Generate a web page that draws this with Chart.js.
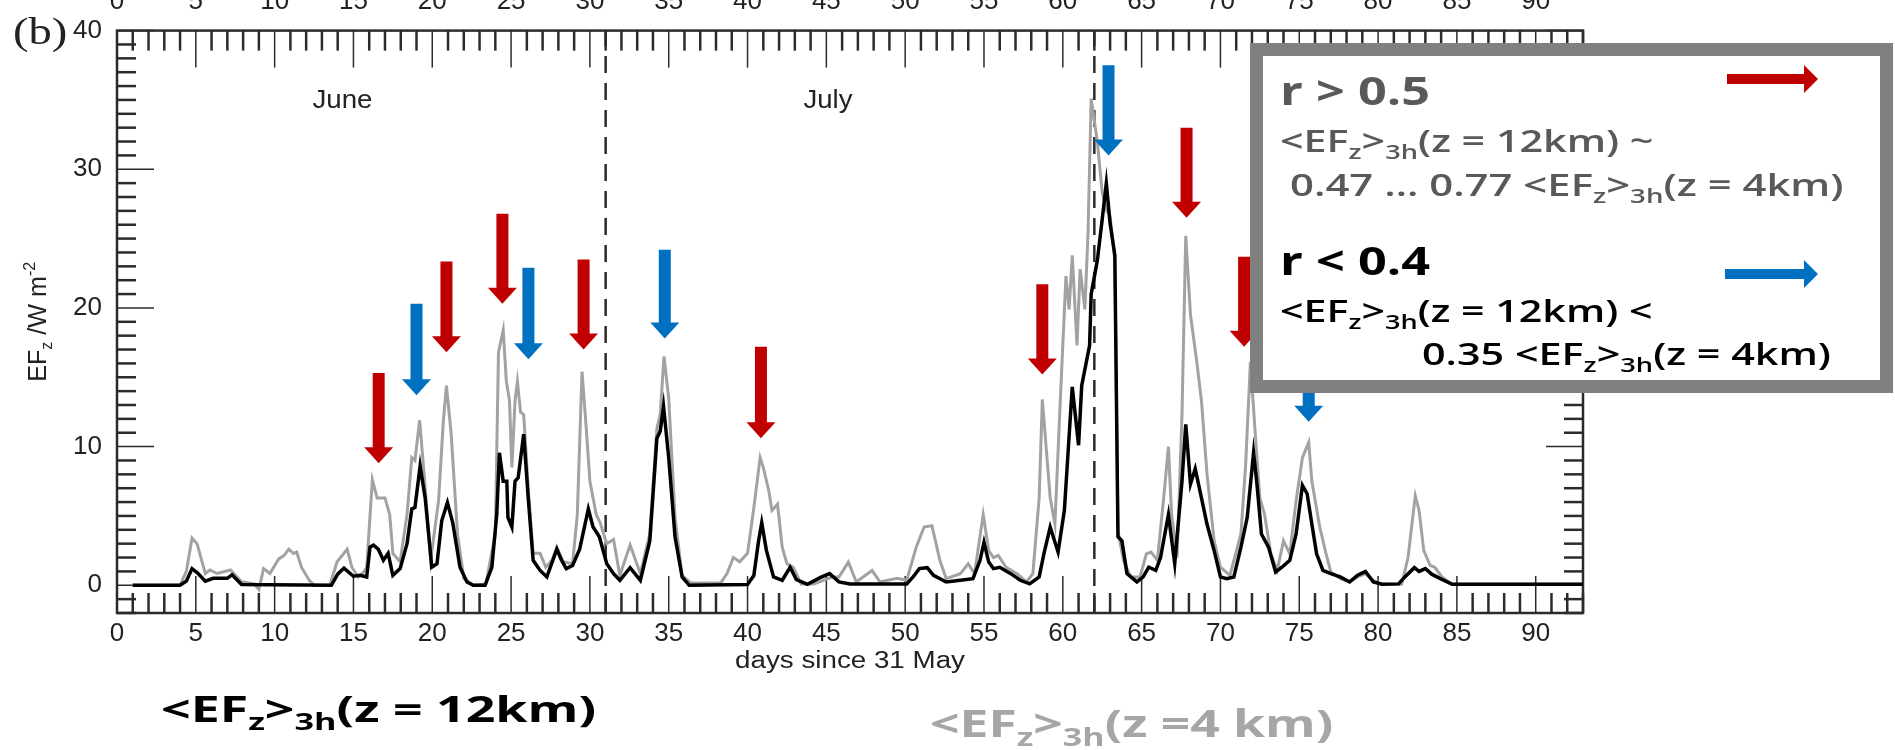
<!DOCTYPE html>
<html>
<head>
<meta charset="utf-8">
<title>EFz 12 km vs 4 km</title>
<script src="https://cdn.jsdelivr.net/npm/chart.js@4.4.1/dist/chart.umd.min.js"></script>
<style>
    html, body { margin: 0; padding: 0; background: #fff; }
    #wrap { position: relative; width: 1895px; height: 750px; overflow: hidden; }
    #chart { position: absolute; left: 0; top: 0; }
    .txt { position: absolute; left: 0; top: 0; white-space: nowrap; transform-origin: 0 0;
           font-family: 'Open Sans', 'Noto Sans', sans-serif; line-height: 1; }
    .txt sub { font-size: 0.66em; vertical-align: -0.35em; line-height: 0; }
    .bl { display: inline-block; width: 0; height: 0; vertical-align: baseline; }
    #legendBox { position: absolute; left: 1250px; top: 43px; width: 643px; height: 350px;
                 box-sizing: border-box; border: 13px solid #808080; background: #fff; }
    .grey { color: #595959; }
    .semi { font-weight: 600; }
    .bold { font-weight: 700; }
    #panel { font-family: 'Liberation Serif', serif; color: #222; }
</style>
</head>
<body>
<div id="wrap">
    <canvas id="chart" width="1895" height="750"></canvas>

    <div id="legendBox"></div>
    <svg width="1895" height="750" style="position:absolute;left:0;top:0">
        <polygon fill="#C00000" points="1727,74 1804,74 1804,65 1818,79 1804,93 1804,84 1727,84"/>
        <polygon fill="#0070C0" points="1725,269 1804,269 1804,260 1818,274 1804,288 1804,279 1725,279"/>
    </svg>

    <div class="txt" id="panel" data-x="13" data-base="44" data-w="54" style="font-size:38px">(b)</div>

    <div class="txt grey bold" data-x="1280" data-base="105" data-w="150" style="font-size:40px">r &gt; 0.5</div>
    <div class="txt grey semi" data-x="1280" data-base="152" data-w="374" style="font-size:30px">&lt;EF<sub>z</sub>&gt;<sub>3h</sub>(z = 12km) ~</div>
    <div class="txt grey semi" data-x="1290" data-base="196" data-w="554" style="font-size:30px">0.47 &hellip; 0.77 &lt;EF<sub>z</sub>&gt;<sub>3h</sub>(z = 4km)</div>
    <div class="txt bold" data-x="1280" data-base="275" data-w="150" style="font-size:40px">r &lt; 0.4</div>
    <div class="txt semi" data-x="1280" data-base="322" data-w="373" style="font-size:30px">&lt;EF<sub>z</sub>&gt;<sub>3h</sub>(z = 12km) &lt;</div>
    <div class="txt semi" data-x="1422" data-base="365" data-w="409" style="font-size:30px">0.35 &lt;EF<sub>z</sub>&gt;<sub>3h</sub>(z = 4km)</div>

    <div class="txt bold" data-x="161" data-base="722" data-w="435" style="font-size:36px">&lt;EF<sub>z</sub>&gt;<sub>3h</sub>(z = 12km)</div>
    <div class="txt bold" data-x="930" data-base="737" data-w="403" style="font-size:37px;color:#A6A6A6">&lt;EF<sub>z</sub>&gt;<sub>3h</sub>(z =4 km)</div>
</div>

<script>
// days since 31 May and 3h-mean EFz (W m-2) at z = 12 km (black)
var days12 = [1.0, 4.0, 4.4, 4.76, 5.1, 5.6, 6.1, 7.0, 7.3, 7.9,
    13.6, 14.0, 14.4, 15.0, 15.42, 15.84, 16.05, 16.27, 16.58, 16.9,
    17.2, 17.5, 17.96, 18.4, 18.7, 18.9, 19.23, 19.55, 19.97, 20.3,
    20.6, 20.96, 21.3, 21.76, 22.2, 22.6, 23.35, 23.78, 24.09, 24.26,
    24.5, 24.73, 24.8, 25.05, 25.25, 25.45, 25.8, 26.1, 26.4, 26.84,
    27.27, 27.9, 28.2, 28.5, 28.9, 29.35, 29.9, 30.2, 30.6, 31.07,
    31.5, 31.9, 32.55, 33.2, 33.8, 34.25, 34.46, 34.67, 35.0, 35.4,
    35.85, 36.3, 40.0, 40.4, 40.7, 40.9, 41.2, 41.65, 42.2, 42.7,
    43.1, 43.8, 44.6, 45.2, 45.8, 46.5, 50.1, 50.5, 50.9, 51.4,
    51.8, 52.6, 53.5, 54.3, 54.75, 55.0, 55.3, 55.6, 56.0, 56.7,
    57.3, 57.9, 58.5, 58.8, 59.2, 59.7, 60.1, 60.6, 61.0, 61.2,
    61.7, 61.8, 62.2, 62.5, 62.76, 63.0, 63.3, 63.5, 63.75, 64.07,
    64.7, 65.1, 65.45, 65.9, 66.2, 66.7, 67.1, 67.56, 67.8, 68.1,
    68.4, 68.7, 69.15, 69.6, 70.0, 70.4, 70.85, 71.3, 71.7, 72.1,
    72.3, 72.6, 73.05, 73.5, 73.9, 74.4, 74.8, 75.2, 75.5, 75.8,
    76.1, 76.5, 77.0, 77.6, 78.2, 78.7, 79.2, 79.7, 80.25, 81.3,
    81.7, 82.3, 82.6, 83.0, 83.4, 83.95, 84.7, 93.0];
var ef12 = [0, 0, 0.3, 1.2, 0.9, 0.3, 0.5, 0.5, 0.76, 0.05,
    0, 0.8, 1.24, 0.65, 0.72, 0.6, 2.75, 2.9, 2.6, 1.8,
    2.3, 0.72, 1.2, 3.0, 5.5, 5.6, 8.6, 6.3, 1.3, 1.55,
    4.65, 5.97, 4.5, 1.3, 0.24, 0, 0, 1.3, 5.1, 9.55,
    7.5, 7.5, 4.9, 4.2, 7.5, 7.75, 10.9, 6.1, 1.8, 1.07,
    0.6, 2.6, 1.8, 1.2, 1.43, 2.6, 5.5, 4.2, 3.5, 1.55,
    0.84, 0.36, 1.27, 0.36, 3.2, 10.6, 11.1, 12.9, 9.2, 3.5,
    0.6, 0, 0.05, 0.7, 3.2, 4.5, 2.5, 0.6, 0.36, 1.3,
    0.4, 0.07, 0.55, 0.84, 0.24, 0.1, 0.1, 0.6, 1.2, 1.27,
    0.72, 0.24, 0.36, 0.48, 1.8, 3.1, 1.67, 1.2, 1.3, 0.84,
    0.36, 0.1, 0.6, 2.27, 4.2, 2.4, 5.4, 14.3, 10.1, 14.4,
    17.3, 21.0, 23.5, 26.4, 29.0, 26.1, 23.8, 3.5, 3.2, 0.84,
    0.24, 0.6, 1.3, 1.07, 2.0, 5.1, 1.55, 7.5, 11.6, 7.3,
    8.4, 6.8, 4.4, 2.5, 0.6, 0.48, 0.6, 2.75, 4.9, 9.55,
    7.5, 3.7, 2.75, 0.96, 1.3, 1.8, 3.7, 7.2, 6.6, 4.4,
    2.27, 1.07, 0.84, 0.6, 0.24, 0.72, 1.0, 0.24, 0.07, 0.1,
    0.6, 1.27, 1.0, 1.2, 0.8, 0.48, 0.07, 0.07];

// same at z = 4 km (grey)
var days4 = [1.0, 4.0, 4.4, 4.76, 5.08, 5.6, 5.9, 6.35, 7.2, 7.9,
    8.7, 9.0, 9.3, 9.7, 10.26, 10.6, 10.9, 11.2, 11.4, 11.7,
    12.2, 12.5, 13.5, 13.96, 14.6, 14.9, 15.3, 15.65, 15.84, 16.2,
    16.5, 17.0, 17.3, 17.5, 17.96, 18.4, 18.7, 18.9, 19.2, 19.5,
    19.9, 20.4, 20.7, 20.9, 21.2, 21.6, 22.0, 22.6, 23.4, 24.0,
    24.2, 24.5, 24.7, 24.9, 25.05, 25.25, 25.4, 25.6, 25.8, 26.1,
    26.4, 26.84, 27.2, 27.6, 27.9, 28.3, 28.9, 29.2, 29.5, 29.77,
    30.0, 30.4, 30.65, 31.07, 31.5, 31.9, 32.55, 33.2, 33.8, 34.25,
    34.46, 34.7, 35.0, 35.4, 35.85, 36.4, 38.3, 38.7, 39.1, 39.5,
    40.0, 40.4, 40.8, 41.0, 41.35, 41.55, 41.9, 42.2, 42.5, 42.9,
    43.4, 44.2, 45.4, 45.8, 46.4, 46.9, 47.9, 48.4, 49.5, 50.1,
    50.7, 51.2, 51.7, 52.2, 52.6, 53.5, 54.0, 54.4, 54.95, 55.3,
    55.6, 55.9, 56.4, 57.1, 57.7, 58.1, 58.5, 58.7, 59.2, 59.5,
    59.8, 60.2, 60.4, 60.6, 60.9, 61.1, 61.4, 61.6, 61.8, 62.0,
    62.2, 62.5, 62.76, 63.0, 63.3, 63.5, 63.85, 64.3, 64.9, 65.3,
    65.6, 66.0, 66.4, 66.7, 66.9, 67.25, 67.56, 67.8, 68.1, 68.5,
    68.8, 69.15, 69.6, 70.0, 70.6, 71.3, 71.6, 71.9, 72.2, 72.5,
    72.8, 73.2, 73.6, 74.0, 74.4, 74.8, 75.2, 75.6, 75.8, 76.3,
    76.7, 77.0, 77.6, 78.2, 78.7, 79.2, 79.7, 80.25, 81.5, 81.9,
    82.36, 82.6, 82.9, 83.3, 83.6, 84.05, 84.7, 93.0];
var ef4 = [0, 0, 1.0, 3.4, 3.0, 0.85, 1.1, 0.85, 1.1, 0.25,
    0.1, -0.3, 1.2, 0.85, 1.9, 2.15, 2.6, 2.3, 2.4, 1.3,
    0.35, 0, 0, 1.7, 2.6, 1.3, 0.6, 0.95, 1.3, 7.6,
    6.3, 6.3, 5.1, 2.3, 1.7, 5.1, 9.2, 9.0, 11.9, 7.76,
    1.8, 6.1, 11.8, 14.4, 10.9, 3.7, 0.5, 0, 0.1, 3.7,
    16.8, 18.4, 14.7, 13.3, 8.5, 13.3, 14.7, 12.5, 12.3, 6.8,
    2.3, 2.3, 1.3, 1.8, 2.75, 1.7, 1.55, 5.1, 15.4, 11.3,
    7.5, 5.1, 4.5, 3.0, 3.3, 0.7, 2.9, 0.84, 3.7, 11.3,
    12.3, 16.5, 13.5, 4.9, 0.7, 0.17, 0.17, 0.84, 2.0, 1.7,
    2.3, 5.6, 9.2, 8.5, 6.8, 5.4, 5.85, 2.75, 1.55, 1.3,
    0.1, 0.1, 0.6, 0.6, 1.67, 0.24, 1.07, 0.24, 0.5, 0.36,
    2.75, 4.2, 4.3, 1.8, 0.48, 0.84, 1.55, 0.84, 5.1, 2.5,
    2.0, 2.15, 1.3, 0.84, 0.24, 0.84, 6.3, 13.4, 6.3, 4.4,
    12.3, 22.3, 19.9, 23.8, 17.3, 22.8, 19.9, 25.4, 35.1, 33.5,
    31.9, 28.3, 27.1, 26.6, 23.5, 3.9, 1.8, 0.6, 0.6, 2.27,
    2.4, 1.8, 6.3, 10.0, 5.1, 2.0, 12.3, 25.2, 19.5, 16.1,
    13.25, 8.0, 3.2, 1.3, 0.72, 3.7, 8.7, 16.1, 11.1, 6.3,
    5.1, 2.27, 1.07, 3.2, 2.27, 6.1, 9.2, 10.3, 7.5, 4.2,
    2.27, 0.96, 0.48, 0.24, 0.6, 0.84, 0.36, 0.07, 0.07, 2.0,
    6.45, 5.4, 2.5, 1.43, 1.3, 0.6, 0.07, 0.07];

// axes
var xTickValues = [0, 5, 10, 15, 20, 25, 30, 35, 40, 45, 50, 55, 60, 65, 70, 75, 80, 85, 90];
var yTickValues = [0, 10, 20, 30, 40];
var xTitle = 'days since 31 May';

// month labels and month boundaries
var monthNames = ['June', 'July'];
var monthDays = [14.3, 45.1];
var monthLabelLevel = 34.4;
var splitDays = [31, 62];

// event arrows: day, top of shaft, tip (in EFz units), correlation group
var arrowDays = [16.6, 19.0, 20.9, 24.45, 26.1, 29.6, 34.75, 40.85, 58.7, 62.9, 67.85, 71.5, 75.6];
var arrowTop  = [15.3, 20.3, 23.35, 26.8, 22.9, 23.5, 24.2, 17.2, 21.7, 37.5, 33.0, 23.7, 20.0];
var arrowTip  = [8.8, 13.7, 16.8, 20.3, 16.3, 17.0, 17.8, 10.6, 15.2, 31.0, 26.5, 17.2, 11.8];
var arrowGroup = ['high', 'low', 'high', 'high', 'low', 'high', 'low', 'high', 'high', 'low', 'high', 'high', 'low'];

var groupColor = { high: '#C00000', low: '#0070C0' };
var axisColor = '#2b2b2b';

function toPoints(xs, ys) {
    return xs.map(function (d, i) { return { x: d, y: ys[i] }; });
}

// draw a string stretched to a given width
function fitText(ctx, str, x, y, w, align) {
    var nat = ctx.measureText(str).width;
    ctx.save();
    ctx.translate(x, y);
    ctx.scale(w / nat, 1);
    ctx.textAlign = 'left';
    ctx.fillText(str, align === 'center' ? -nat / 2 : 0, 0);
    ctx.restore();
}

var decor = {
    id: 'decor',
    beforeDatasetsDraw: function (chart) {
        var ctx = chart.ctx, a = chart.chartArea, x = chart.scales.x, y = chart.scales.y;
        ctx.save();
        ctx.strokeStyle = axisColor;

        // month boundaries
        ctx.lineWidth = 2.5;
        ctx.setLineDash([17, 10]);
        splitDays.forEach(function (d) {
            var px = x.getPixelForValue(d);
            ctx.beginPath();
            ctx.moveTo(px, a.bottom);
            ctx.lineTo(px, a.top);
            ctx.stroke();
        });
        ctx.setLineDash([]);

        // inward tick marks on all four sides
        function seg(x1, y1, x2, y2) {
            ctx.beginPath(); ctx.moveTo(x1, y1); ctx.lineTo(x2, y2); ctx.stroke();
        }
        for (var d = Math.ceil(x.min); d <= x.max; d++) {
            var major = d % 5 === 0, len = major ? 37 : 20, px = x.getPixelForValue(d);
            ctx.lineWidth = major ? 1.5 : 2.5;
            seg(px, a.bottom, px, a.bottom - len);
            seg(px, a.top, px, a.top + len);
        }
        for (var v = Math.ceil(y.min); v <= y.max; v++) {
            var majorY = v % 10 === 0, lenY = majorY ? 37 : 19, py = y.getPixelForValue(v);
            ctx.lineWidth = majorY ? 1.5 : 2.5;
            seg(a.left, py, a.left + lenY, py);
            seg(a.right, py, a.right - lenY, py);
        }

        ctx.lineWidth = 2.5;
        ctx.strokeRect(a.left, a.top, a.right - a.left, a.bottom - a.top);
        ctx.restore();
    },
    afterDatasetsDraw: function (chart) {
        var ctx = chart.ctx, x = chart.scales.x, y = chart.scales.y;
        ctx.save();
        arrowDays.forEach(function (d, i) {
            var px = x.getPixelForValue(d);
            var top = y.getPixelForValue(arrowTop[i]);
            var tip = y.getPixelForValue(arrowTip[i]);
            var head = 16, sw = 6, hw = 14.5;
            ctx.fillStyle = groupColor[arrowGroup[i]];
            ctx.beginPath();
            ctx.moveTo(px - sw, top);
            ctx.lineTo(px + sw, top);
            ctx.lineTo(px + sw, tip - head);
            ctx.lineTo(px + hw, tip - head);
            ctx.lineTo(px, tip);
            ctx.lineTo(px - hw, tip - head);
            ctx.lineTo(px - sw, tip - head);
            ctx.closePath();
            ctx.fill();
        });
        ctx.restore();
    },
    afterDraw: function (chart) {
        var ctx = chart.ctx, a = chart.chartArea, x = chart.scales.x, y = chart.scales.y;
        ctx.save();
        ctx.fillStyle = '#222';
        ctx.textBaseline = 'alphabetic';

        // labels of the top axis (mostly cut off by the page edge)
        ctx.font = '26px "Liberation Sans", Arial, sans-serif';
        ctx.textAlign = 'center';
        xTickValues.forEach(function (v) {
            ctx.fillText(String(v), x.getPixelForValue(v), a.top - 22);
        });

        // month names
        ctx.font = '26px "Liberation Sans", Arial, sans-serif';
        monthNames.forEach(function (m, i) {
            fitText(ctx, m, x.getPixelForValue(monthDays[i]), y.getPixelForValue(monthLabelLevel), m === 'June' ? 60 : 49, 'center');
        });

        // x title
        ctx.font = '23px "Liberation Sans", Arial, sans-serif';
        fitText(ctx, xTitle, (a.left + a.right) / 2, a.bottom + 55, 230, 'center');

        // y title: EF_z /W m^-2, rotated
        var parts = [['EF', 0], ['z', 1], [' /W m', 0], ['-2', -1]];
        var fs = 25, small = 16;
        var total = 0;
        parts.forEach(function (p) {
            ctx.font = (p[1] ? small : fs) + 'px "Liberation Sans", Arial, sans-serif';
            total += ctx.measureText(p[0]).width;
        });
        var target = 120;
        ctx.translate(46, (a.top + a.bottom) / 2);
        ctx.rotate(-Math.PI / 2);
        ctx.scale(target / total, 1);
        var cx = -total / 2;
        ctx.textAlign = 'left';
        parts.forEach(function (p) {
            ctx.font = (p[1] ? small : fs) + 'px "Liberation Sans", Arial, sans-serif';
            var dy = p[1] === 1 ? 6 : (p[1] === -1 ? -11 : 0);
            ctx.fillText(p[0], cx, dy);
            cx += ctx.measureText(p[0]).width;
        });
        ctx.restore();
    }
};

var tickFont = { family: '"Liberation Sans", Arial, sans-serif', size: 26 };

var chart = new Chart(document.getElementById('chart').getContext('2d'), {
    type: 'line',
    data: {
        datasets: [{
            label: '<EFz>3h (z = 12 km)',
            data: toPoints(days12, ef12),
            borderColor: '#000000',
            borderWidth: 3.5,
            pointRadius: 0,
            tension: 0
        }, {
            label: '<EFz>3h (z = 4 km)',
            data: toPoints(days4, ef4),
            borderColor: '#a2a2a2',
            borderWidth: 3,
            pointRadius: 0,
            tension: 0
        }]
    },
    options: {
        responsive: false,
        animation: false,
        devicePixelRatio: 1,
        layout: { padding: { left: 0, top: 25, right: 312, bottom: 0 } },
        plugins: { legend: { display: false }, tooltip: { enabled: false } },
        scales: {
            x: {
                type: 'linear',
                min: 0,
                max: 93,
                afterBuildTicks: function (s) { s.ticks = xTickValues.map(function (v) { return { value: v }; }); },
                afterFit: function (s) { s.height = 137; },
                grid: { display: false, drawTicks: false },
                border: { display: false },
                ticks: { font: tickFont, color: '#222', padding: 5, maxRotation: 0, autoSkip: false }
            },
            y: {
                type: 'linear',
                min: -2,
                max: 40,
                afterBuildTicks: function (s) { s.ticks = yTickValues.map(function (v) { return { value: v }; }); },
                afterFit: function (s) { s.width = 117; },
                grid: { display: false, drawTicks: false },
                border: { display: false },
                ticks: { font: tickFont, color: '#222', padding: 15 }
            }
        }
    },
    plugins: [decor]
});

// place the html labels by their baseline and stretch them to the measured widths
function placeTexts() {
    document.querySelectorAll('.txt').forEach(function (el) {
        var mark = document.createElement('span');
        mark.className = 'bl';
        el.insertBefore(mark, el.firstChild);
        var nat = el.offsetWidth;
        el.style.left = el.dataset.x + 'px';
        el.style.top = (el.dataset.base - mark.offsetTop) + 'px';
        el.style.transform = 'scaleX(' + (el.dataset.w / nat) + ')';
    });
}
if (document.fonts && document.fonts.ready) {
    document.fonts.ready.then(placeTexts);
} else {
    placeTexts();
}
</script>
</body>
</html>
